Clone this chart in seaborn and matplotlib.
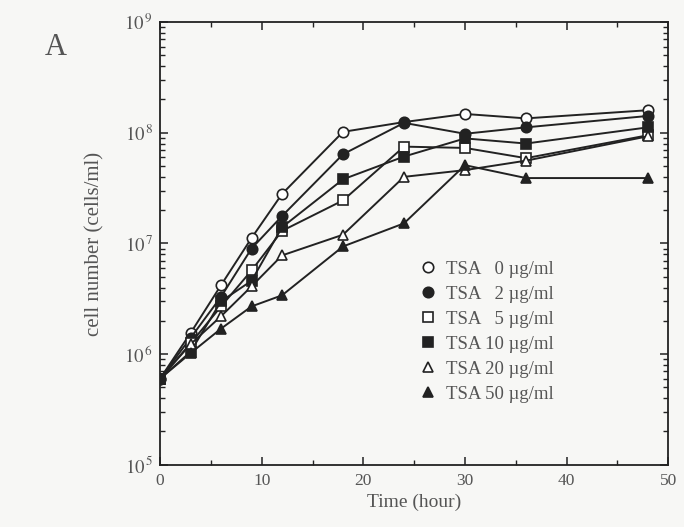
import pandas as pd
import matplotlib
matplotlib.use("Agg")
import matplotlib.pyplot as plt
import seaborn as sns
from matplotlib.lines import Line2D
from matplotlib.ticker import LogLocator, MultipleLocator, FixedLocator

# ===== data =====
time_h = [0, 3, 6, 9, 12, 18, 24, 30, 36, 48]
tsa_0 = [6.0e5, 1.55e6, 4.2e6, 1.12e7, 2.8e7, 1.02e8, 1.25e8, 1.48e8, 1.35e8, 1.6e8]
tsa_2 = [6.0e5, 1.4e6, 3.3e6, 9.0e6, 1.77e7, 6.4e7, 1.23e8, 9.8e7, 1.12e8, 1.42e8]
tsa_5 = [6.0e5, 1.25e6, 2.7e6, 5.7e6, 1.3e7, 2.45e7, 7.5e7, 7.3e7, 5.9e7, 9.5e7]
tsa_10 = [6.0e5, 1.05e6, 3.0e6, 4.6e6, 1.4e7, 3.8e7, 6.1e7, 8.9e7, 8.0e7, 1.12e8]
tsa_20 = [6.0e5, 1.23e6, 2.2e6, 4.1e6, 7.8e6, 1.2e7, 4.0e7, 4.6e7, 5.6e7, 9.3e7]
tsa_50 = [6.0e5, 1.02e6, 1.7e6, 2.7e6, 3.4e6, 9.4e6, 1.52e7, 5.1e7, 3.9e7, 3.9e7]

labels = ["TSA \u20070 µg/ml", "TSA \u20072 µg/ml", "TSA \u20075 µg/ml",
          "TSA 10 µg/ml", "TSA 20 µg/ml", "TSA 50 µg/ml"]
series = [tsa_0, tsa_2, tsa_5, tsa_10, tsa_20, tsa_50]
markers = ["o", "o", "s", "s", "^", "^"]
filled = [False, True, False, True, False, True]

sns.set_style("ticks")
plt.rcParams["font.family"] = ["Liberation Serif", "DejaVu Serif"]
plt.rcParams["mathtext.fontset"] = "stix"

ink = "#222222"
txt = "#555555"
bg = "#f7f7f5"

fig = plt.figure(figsize=(6.84, 5.27), dpi=100, facecolor=bg)
ax = fig.add_axes([0.234, 0.118, 0.743, 0.840])
ax.set_facecolor(bg)

# lines and markers, later series drawn on top
for i, ys in enumerate(series):
    df = pd.DataFrame({"t": time_h, "n": ys})
    fc = ink if filled[i] else "white"
    ms = 7.5 if markers[i] == "o" else 7
    sns.lineplot(data=df, x="t", y="n", ax=ax, color=ink, lw=1.4,
                 marker=markers[i], markersize=ms, markerfacecolor=fc,
                 markeredgecolor=ink, markeredgewidth=1.2, zorder=3 + i)

ax.set_yscale("log")
ax.set_xlim(0, 50)
ax.set_ylim(1e5, 1e9)

ax.xaxis.set_major_locator(MultipleLocator(10))
ax.xaxis.set_minor_locator(MultipleLocator(5))
ax.yaxis.set_major_locator(FixedLocator([1e5, 1e6, 1e7, 1e8, 1e9]))
ax.yaxis.set_minor_locator(LogLocator(base=10, subs=range(2, 10), numticks=20))
ax.set_yticklabels([r"$10^{\,5}$", r"$10^{\,6}$", r"$10^{\,7}$", r"$10^{\,8}$", r"$10^{\,9}$"])

ax.tick_params(which="both", direction="in", top=True, right=True, colors=ink,
               labelcolor=txt)
ax.tick_params(axis="x", labelsize=12.5, pad=6)
ax.tick_params(axis="y", labelsize=13.5, pad=5)
ax.tick_params(which="major", length=6, width=1.1)
ax.tick_params(which="minor", length=3.5, width=1.0)
for sp in ax.spines.values():
    sp.set_color(ink)
    sp.set_linewidth(1.3)

ax.set_xlabel("Time (hour)", fontsize=14, color=txt, labelpad=3)
ax.set_ylabel("cell number (cells/ml)", fontsize=15, color=txt, labelpad=14)

handles = []
for i in range(len(series)):
    fc = ink if filled[i] else "white"
    handles.append(Line2D([], [], ls="none", marker=markers[i], markersize=7.5,
                          markerfacecolor=fc, markeredgecolor=ink, markeredgewidth=1.2))
leg = ax.legend(handles, labels, loc="upper left", bbox_to_anchor=(0.49, 0.478),
                frameon=False, fontsize=13.5, handletextpad=0.35, labelspacing=0.42,
                handlelength=1.2, borderaxespad=0)
for t in leg.get_texts():
    t.set_color(txt)

fig.text(0.065, 0.91, "A", fontsize=22, color=txt, ha="left", va="center")

fig.savefig("out.png", dpi=100, facecolor=bg)
